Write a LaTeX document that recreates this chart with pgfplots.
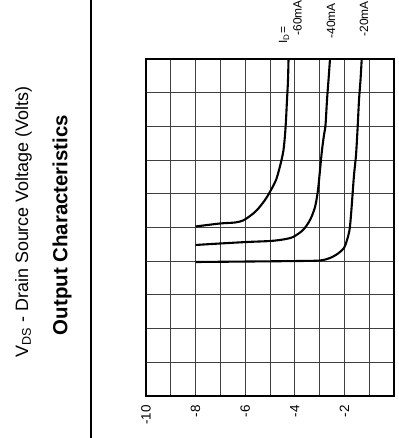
\documentclass[border=0pt]{standalone}
\usepackage{fontspec}
\setmainfont{Liberation Sans}
\usepackage{pgfplots}
\pgfplotsset{compat=1.18}
\begin{document}
\begin{tikzpicture}[x=1bp,y=1bp]
\path[use as bounding box] (0,0) rectangle (398,438);
\draw[line width=1.2bp] (91,0) -- (91,438);
\node[rotate=90, font=\fontsize{18}{20}\selectfont] at (23.5,216) {V\textsubscript{DS} - Drain Source Voltage (Volts)};
\node[rotate=90, font=\bfseries\fontsize{20.5}{24}\selectfont] at (62,213) {Output Characteristics};
\begin{axis}[
  at={(146bp,42bp)}, anchor=south west, scale only axis,
  width=248bp, height=337bp,
  xmin=-10, xmax=0, ymin=0, ymax=10,
  xtick={-10,-9,...,0},
  xticklabels={-10,,-8,,-6,,-4,,-2,,},
  ytick={0,1,...,10}, yticklabels={},
  grid=major,
  major grid style={black!75, line width=1bp},
  major tick length=0pt,
  axis line style={line width=1.4bp},
  clip=false,
  xticklabel shift=9bp,
  xticklabel style={rotate=90, anchor=east, inner sep=0pt, font=\fontsize{13.5}{13.5}\selectfont},
]
\addplot[smooth, line width=2.1bp] coordinates {
(-8.0,5.03) (-7.016,5.119) (-6.411,5.148) (-6.089,5.208) (-5.806,5.341) (-5.524,5.519) (-5.202,5.816) (-4.960,6.113) (-4.758,6.409) (-4.637,6.706) (-4.536,7.003) (-4.456,7.300) (-4.395,7.745) (-4.355,8.190) (-4.315,8.783) (-4.274,9.377) (-4.254,10.0)};
\addplot[smooth, line width=2.1bp] coordinates {
(-8.0,4.481) (-7.016,4.525) (-5.927,4.570) (-5.0,4.599) (-4.476,4.644) (-4.073,4.718) (-3.669,4.926) (-3.387,5.223) (-3.185,5.608) (-3.065,6.113) (-2.984,6.706) (-2.903,7.300) (-2.823,7.745) (-2.762,8.042) (-2.702,8.783) (-2.641,9.377) (-2.581,10.0)};
\addplot[smooth, line width=2.1bp] coordinates {
(-8.0,3.976) (-5.806,3.991) (-3.790,4.006) (-2.984,4.021) (-2.581,4.095) (-2.258,4.228) (-2.016,4.392) (-1.895,4.629) (-1.794,4.926) (-1.734,5.371) (-1.673,5.964) (-1.613,6.558) (-1.532,7.151) (-1.472,7.893) (-1.411,8.783) (-1.351,9.377) (-1.302,10.0)};
\end{axis}
\node[rotate=90, anchor=west, font=\fontsize{12}{12}\selectfont] at (284,391) {I\textsubscript{D}=};
\node[rotate=90, anchor=west, font=\fontsize{12}{12}\selectfont] at (297.5,399) {-60mA};
\node[rotate=90, anchor=west, font=\fontsize{12}{12}\selectfont] at (331,396) {-40mA};
\node[rotate=90, anchor=west, font=\fontsize{12}{12}\selectfont] at (364,398) {-20mA};
\end{tikzpicture}
\end{document}
